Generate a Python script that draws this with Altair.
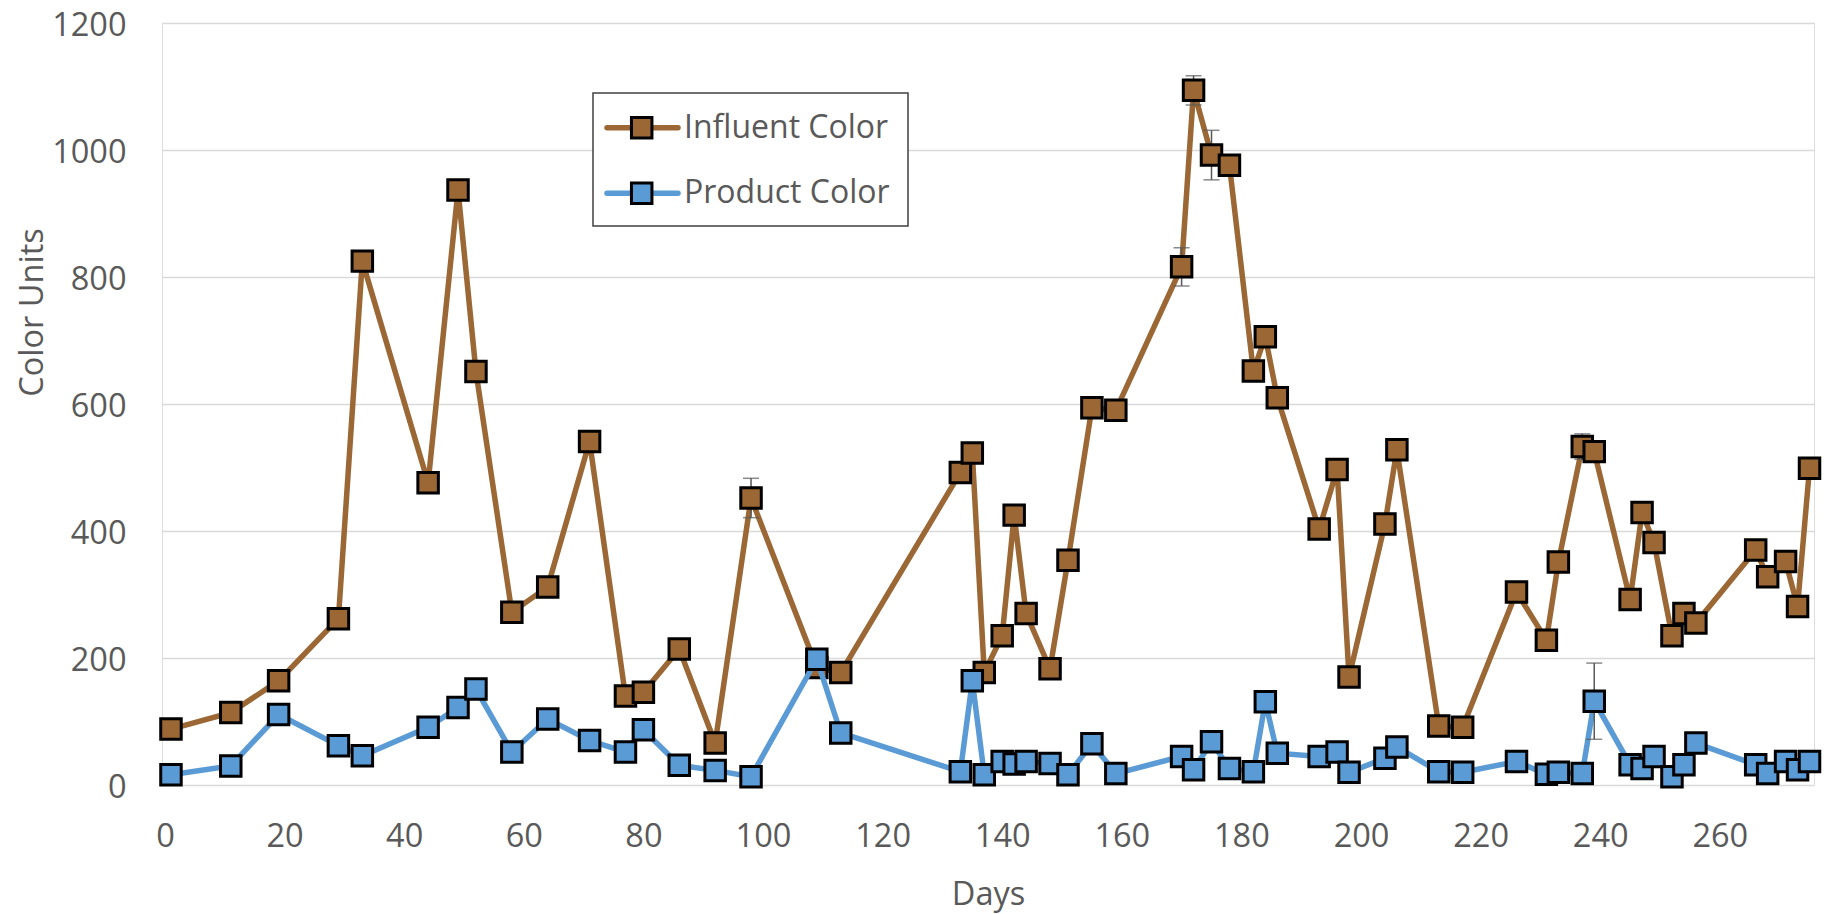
import altair as alt
import pandas as pd

# ---- data ----
days = [1, 11, 19, 29, 33, 44, 49, 52, 58, 64, 71, 77, 80, 86, 92, 98, 109, 113,
        133, 135, 137, 140, 142, 144, 148, 151, 155, 159, 170, 172, 175, 178, 182,
        184, 186, 193, 196, 198, 204, 206, 213, 217, 226, 231, 233, 237, 239, 245,
        247, 249, 252, 254, 256, 266, 268, 271, 273, 275]

influent = [88, 114, 164, 262, 825, 476, 937, 651, 272, 312, 541, 140, 146, 214, 66,
            452, 185, 177, 492, 523, 177, 235, 425, 270, 183, 354, 594, 590, 816,
            1094, 992, 976, 652, 706, 610, 403, 497, 170, 411, 528, 93, 91, 304, 228,
            351, 533, 525, 292, 429, 382, 235, 270, 255, 370, 328, 352, 281, 499]

product = [16, 30, 111, 62, 46, 91, 122, 151, 52, 104, 70, 52, 87, 31, 23, 13, 198,
           82, 21, 164, 16, 37, 33, 37, 34, 16, 65, 18, 45, 24, 68, 26, 21, 131, 50,
           45, 52, 20, 42, 60, 21, 20, 37, 17, 20, 18, 132, 32, 26, 45, 13, 32, 66,
           32, 18, 37, 24, 37]

# error bars (day, half-width)
influent_err_days = [98, 170, 172, 175, 237]
influent_err = [31, 30, 23, 39, 20]
product_err_days = [239]
product_err = [60]

series_names = ["Influent Color", "Product Color"]
series_colors = ["#9B6734", "#5B9BD5"]

x_ticks = list(range(0, 261, 20))
y_ticks = list(range(0, 1201, 200))

FONT = "Open Sans"
TXT = "#595959"

df_in = pd.DataFrame({"Days": days, "Color Units": influent})
df_pr = pd.DataFrame({"Days": days, "Color Units": product})


def err_frame(err_days, err, vals):
    lookup = dict(zip(days, vals))
    return pd.DataFrame({
        "Days": err_days,
        "lo": [lookup[d] - e for d, e in zip(err_days, err)],
        "hi": [lookup[d] + e for d, e in zip(err_days, err)],
    })


df_in_err = err_frame(influent_err_days, influent_err, influent)
df_pr_err = err_frame(product_err_days, product_err, product)

x_scale = alt.Scale(domain=[-0.5, 275.75], nice=False, zero=False)
y_scale = alt.Scale(domain=[0, 1200], nice=False)

x_axis = alt.Axis(values=x_ticks, grid=False, ticks=False, tickSize=0, domain=False,
                  labelFontSize=32.5, labelColor=TXT, labelFont=FONT, labelPadding=35,
                  title="Days", titleFontSize=32.5, titleColor=TXT, titleFont=FONT,
                  titleFontWeight="normal", titlePadding=26)
y_axis = alt.Axis(values=y_ticks, format="d", grid=True, gridColor="#D9D9D9", gridWidth=1.5,
                  ticks=False, tickSize=0, domain=False,
                  labelFontSize=32.5, labelColor=TXT, labelFont=FONT, labelPadding=36,
                  labelOffset=2,
                  title="Color Units", titleFontSize=32.5, titleColor=TXT, titleFont=FONT,
                  titleFontWeight="normal", titleAngle=270, titleBaseline="bottom",
                  titleAlign="center", titleX=-113, titleY=289)


def X(field="Days"):
    return alt.X(f"{field}:Q", scale=x_scale, axis=x_axis)


def Y(field="Color Units"):
    return alt.Y(f"{field}:Q", scale=y_scale, axis=y_axis)


def series_layers(df, df_err, color):
    line = alt.Chart(df).mark_line(color=color, strokeWidth=5.5).encode(x=X(), y=Y())
    rule = alt.Chart(df_err).mark_rule(color="#595959", strokeWidth=1.5).encode(
        x=X(), y=Y("lo"), y2="hi:Q")
    cap_lo = alt.Chart(df_err).mark_tick(color="#595959", orient="horizontal",
                                         size=16, thickness=1.5).encode(x=X(), y=Y("lo"))
    cap_hi = alt.Chart(df_err).mark_tick(color="#595959", orient="horizontal",
                                         size=16, thickness=1.5).encode(x=X(), y=Y("hi"))
    pts = alt.Chart(df).mark_square(size=420, fill=color, stroke="black",
                                    strokeWidth=3, opacity=1).encode(x=X(), y=Y())
    return [line, rule, cap_lo, cap_hi, pts]


layers = []
layers += series_layers(df_in, df_in_err, series_colors[0])
layers += series_layers(df_pr, df_pr_err, series_colors[1])

# ---- custom legend (line + square + label) ----
one = pd.DataFrame({"k": [0]})
legend_box = alt.Chart(one).mark_rect(fill="white", stroke="#404040", strokeWidth=1.5).encode(
    x=alt.value(431), x2=alt.value(746), y=alt.value(70), y2=alt.value(203))
layers.append(legend_box)
entry_y = [104.7, 170.3]
for name, color, yy in zip(series_names, series_colors, entry_y):
    ldf = pd.DataFrame({"name": [name]})
    layers.append(alt.Chart(ldf).mark_rule(color=color, strokeWidth=5.5, strokeCap="round").encode(
        x=alt.value(445), x2=alt.value(516), y=alt.value(yy)))
    layers.append(alt.Chart(ldf).mark_square(size=420, fill=color, stroke="black",
                                             strokeWidth=3, opacity=1).encode(
        x=alt.value(479.7), y=alt.value(yy)))
    layers.append(alt.Chart(ldf).mark_text(align="left", baseline="middle", font=FONT,
                                           fontSize=32, color=TXT).encode(
        x=alt.value(522), y=alt.value(yy), text="name:N"))

chart = alt.layer(*layers).properties(
    width=1652, height=762,
    autosize=alt.AutoSizeParams(type="none"),
    padding={"left": 154, "top": 15, "right": 9, "bottom": 129},
).configure_view(stroke=None).configure(font=FONT)

chart.save("out.html", embed_options={"renderer": "svg", "actions": False})
